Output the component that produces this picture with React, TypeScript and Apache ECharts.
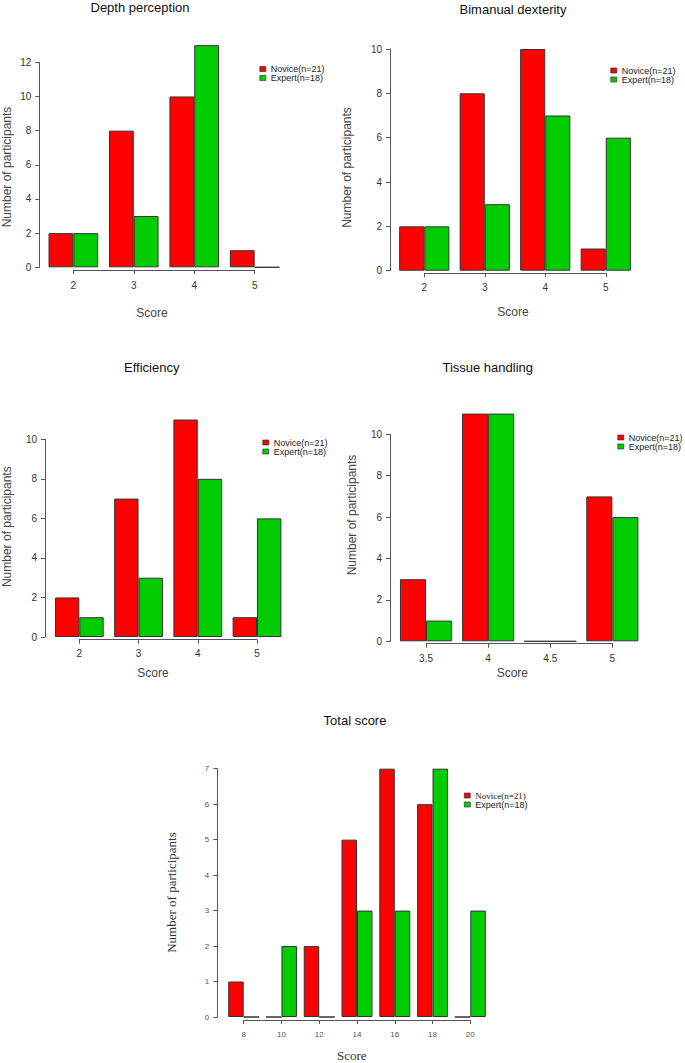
import React, { useEffect, useRef } from 'react';
import * as echarts from 'echarts';

const NOVICE = 'Novice(n=21)';
const EXPERT = 'Expert(n=18)';

const depthScores = ['2', '3', '4', '5'];
const depthNovice = [2, 8, 10, 1];
const depthExpert = [2, 3, 13, 0];

const bimanualScores = ['2', '3', '4', '5'];
const bimanualNovice = [2, 8, 10, 1];
const bimanualExpert = [2, 3, 7, 6];

const efficiencyScores = ['2', '3', '4', '5'];
const efficiencyNovice = [2, 7, 11, 1];
const efficiencyExpert = [1, 3, 8, 6];

const tissueScores = ['3.5', '4', '4.5', '5'];
const tissueNovice = [3, 11, 0, 7];
const tissueExpert = [1, 11, 0, 6];

const totalScores = ['8', '10', '12', '14', '16', '18', '20'];
const totalNovice = [1, 0, 2, 5, 7, 6, 0];
const totalExpert = [0, 2, 0, 3, 3, 7, 3];

const titles = ['Depth perception', 'Bimanual dexterity', 'Efficiency', 'Tissue handling', 'Total score'];
const yMax = [12, 10, 10, 10, 7];
const yInterval = [2, 2, 2, 2, 1];

const SANS = '"Liberation Sans", Arial, sans-serif';
const SERIF = '"Liberation Serif", "Times New Roman", serif';

const panels = [
  { cats: depthScores, nov: depthNovice, exp: depthExpert, left: 43.1, width: 241.8, top: 62.3, y0: 267.3, yAxisX: 39.3, xLineY: 270, title: [140, 7.5], ylab: [7, 167], xlab: [152, 313], legend: [259.5, 64.5], tickFont: 10, labMargin: 10, serif: false, catGap: '18%' },
  { cats: bimanualScores, nov: bimanualNovice, exp: bimanualExpert, left: 394, width: 242, top: 49, y0: 270.7, yAxisX: 390, xLineY: 273.3, title: [513, 9.3], ylab: [347, 167.5], xlab: [513, 311.7], legend: [610.5, 66], tickFont: 10, labMargin: 9, serif: false, catGap: '17%' },
  { cats: efficiencyScores, nov: efficiencyNovice, exp: efficiencyExpert, left: 49.7, width: 236.9, top: 439.3, y0: 637, yAxisX: 45, xLineY: 639.7, title: [151.7, 367.3], ylab: [7, 526.7], xlab: [153, 673.3], legend: [262.5, 438], tickFont: 10, labMargin: 9, serif: false, catGap: '17.7%' },
  { cats: tissueScores, nov: tissueNovice, exp: tissueExpert, left: 395, width: 248.4, top: 434.3, y0: 641.3, yAxisX: 390, xLineY: 643.7, title: [487.7, 367.3], ylab: [352, 515], xlab: [512.3, 673.3], legend: [617.5, 433], tickFont: 10, labMargin: 10, serif: false, catGap: '16%' },
  { cats: totalScores, nov: totalNovice, exp: totalExpert, left: 224.8, width: 264.4, top: 768.7, y0: 1017, yAxisX: 217.3, xLineY: 1020, title: [355, 720], ylab: [171.7, 892.5], xlab: [351.7, 1055], legend: [464, 791], tickFont: 8, labMargin: 10, serif: true, catGap: '18%' },
];

export default function App() {
  const ref = useRef<HTMLDivElement>(null);
  useEffect(() => {
    document.body.style.margin = '0';
    if (!ref.current) return;
    const chart = echarts.init(ref.current, undefined, { renderer: 'svg' });
    const grid: any[] = [];
    const xAxis: any[] = [];
    const yAxis: any[] = [];
    const series: any[] = [];
    const legend: any[] = [];
    const graphic: any[] = [];
    panels.forEach((p, i) => {
      const g = 2 * i;
      const catW = p.width / p.cats.length;
      grid.push({ left: p.left, top: p.top, width: p.width, height: p.y0 - p.top });
      grid.push({ left: p.left + catW / 2, top: p.xLineY - 1, width: p.width - catW, height: 1 });
      xAxis.push({ type: 'category', gridIndex: g, data: p.cats, show: false });
      xAxis.push({
        type: 'category', gridIndex: g + 1, data: p.cats, boundaryGap: false,
        axisLine: { show: true, onZero: false, lineStyle: { color: '#555', width: 1 } },
        axisTick: { show: true, length: 4, interval: 0, lineStyle: { color: '#555' } },
        axisLabel: { interval: 0, margin: p.labMargin, fontSize: p.tickFont, color: p.serif ? '#555' : '#333', fontFamily: SANS },
      });
      yAxis.push({
        type: 'value', gridIndex: g, min: 0, max: yMax[i], interval: yInterval[i],
        offset: p.left - p.yAxisX,
        splitLine: { show: false },
        axisLine: { show: true, lineStyle: { color: '#555', width: 1 } },
        axisTick: { show: true, length: 4, lineStyle: { color: '#555' } },
        axisLabel: { margin: 8, fontSize: p.tickFont, color: p.serif ? '#555' : '#333', fontFamily: SANS },
      });
      yAxis.push({ type: 'value', gridIndex: g + 1, show: false, min: 0, max: 1 });
      const common = {
        type: 'bar', xAxisIndex: g, yAxisIndex: g, barGap: '0%', barCategoryGap: p.catGap, clip: false,
      };
      series.push({ ...common, name: NOVICE, data: p.nov, itemStyle: { color: '#FF0000', borderColor: '#333', borderWidth: 1 } });
      series.push({ ...common, name: EXPERT, data: p.exp, itemStyle: { color: '#00CD00', borderColor: '#333', borderWidth: 1 } });
      legend.push({
        orient: 'vertical', left: p.legend[0], top: p.legend[1], itemWidth: 6, itemHeight: 5, itemGap: 0,
        icon: 'rect', selectedMode: false, padding: 0,
        itemStyle: { borderWidth: 0.6, borderColor: '#222' },
        data: [
          { name: NOVICE, textStyle: { fontFamily: p.serif ? SERIF : SANS } },
          { name: EXPERT, textStyle: { fontFamily: SANS } },
        ],
        textStyle: { fontSize: 9, lineHeight: 9, color: '#222', fontFamily: SANS },
      });
      graphic.push({
        type: 'text', x: p.title[0], y: p.title[1],
        style: { text: titles[i], fontSize: 13, fontFamily: SANS, fill: '#111', align: 'center', verticalAlign: 'middle' },
      });
      graphic.push({
        type: 'text', x: p.ylab[0], y: p.ylab[1], rotation: Math.PI / 2,
        style: { text: 'Number of participants', fontSize: p.serif ? 13 : 12, fontFamily: p.serif ? SERIF : SANS, fill: p.serif ? '#333' : '#444', align: 'center', verticalAlign: 'middle' },
      });
      graphic.push({
        type: 'text', x: p.xlab[0], y: p.xlab[1],
        style: { text: 'Score', fontSize: p.serif ? 13 : 12, fontFamily: p.serif ? SERIF : SANS, fill: p.serif ? '#333' : '#444', align: 'center', verticalAlign: 'middle' },
      });
    });
    chart.setOption({ animation: false, backgroundColor: '#fff', grid, xAxis, yAxis, series, legend, graphic });
    return () => chart.dispose();
  }, []);
  return <div ref={ref} style={{ width: 685, height: 1063 }} />;
}
